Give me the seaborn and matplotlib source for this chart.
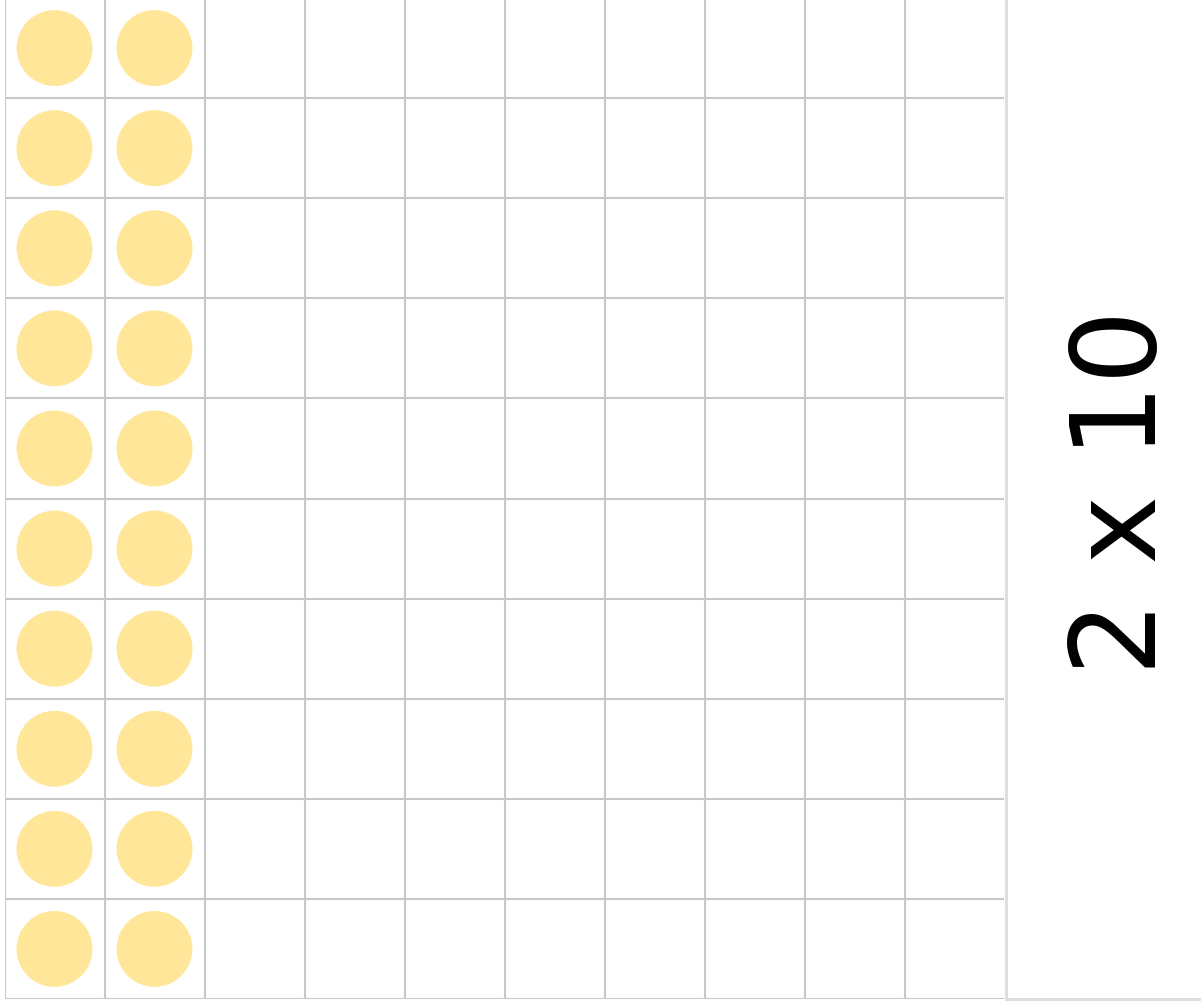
import matplotlib
matplotlib.use("Agg")
from matplotlib import pyplot as plt
import pandas as pd
import seaborn as sns

# ten frame: 2 filled columns x 10 rows on a 10x10 grid
n_rows = 10
n_cols = 10
filled_cols = [1, 2]
rows = list(range(1, 11))
label = "2 x 10"

dot_color = "#FFE699"
grid_color = "#c8c8c8"
panel_color = "#dedede"

df = pd.DataFrame(
    [{"col": c - 0.5, "row": r - 0.5} for r in rows for c in filled_cols]
)

sns.set_style("white")
W, H = 1201, 1004
fig = plt.figure(figsize=(W / 100, H / 100), dpi=100)

# grid area in pixel coords: x 4..1004, y -1..1000 (from top)
ax = fig.add_axes([4.5 / W, (H - 1000) / H, 1000 / W, 1001 / H])
sns.scatterplot(data=df, x="col", y="row", ax=ax, s=2990, color=dot_color,
                edgecolor="none", legend=False, zorder=1)
ax.set_xlim(0, n_cols)
ax.set_ylim(n_rows, 0)
ax.set_xticks(range(n_cols + 1))
ax.set_yticks(range(n_rows + 1))
ax.grid(True, color=grid_color, linewidth=1.5, zorder=0)
ax.tick_params(length=0, labelbottom=False, labelleft=False)
ax.set_xlabel("")
ax.set_ylabel("")
for s in ax.spines.values():
    s.set_visible(False)
ax.set_axisbelow(True)

# right label panel
ax2 = fig.add_axes([1006 / W, (H - 1000) / H, (W - 1006 + 5) / W, 1005 / H])
ax2.set_xlim(0, 1)
ax2.set_ylim(0, 1)
ax2.set_xticks([])
ax2.set_yticks([])
for k, s in ax2.spines.items():
    if k in ("left", "bottom"):
        s.set_color(panel_color)
        s.set_linewidth(2.2)
    else:
        s.set_visible(False)
ax2.patch.set_alpha(0)
ax2.text(0.59, 0.505, label, rotation=90, ha="center", va="center",
         fontsize=84, family="DejaVu Sans", color="black",
         transform=ax2.transAxes)

fig.savefig("out.png", dpi=100)
